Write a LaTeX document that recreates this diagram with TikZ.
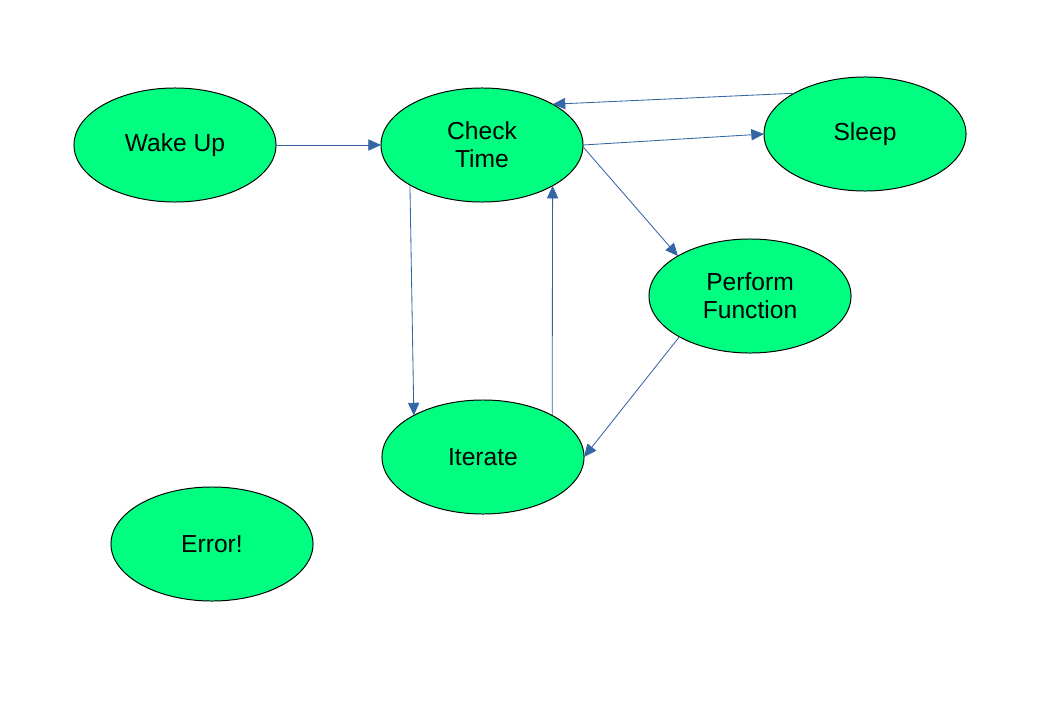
\documentclass[tikz,border=0pt]{standalone}
\usepackage{fontspec}
\setmainfont{Liberation Sans}
\usetikzlibrary{shapes.geometric,arrows.meta}
\definecolor{StateGreen}{HTML}{00FF80}
\definecolor{FlowBlue}{HTML}{3465A4}

\begin{document}
\begin{tikzpicture}[x=0.025cm,y=0.025cm,
  state/.style={ellipse,draw=black,line width=0.7pt,fill=StateGreen,
    minimum width=5.05cm,minimum height=2.85cm,inner sep=0pt,outer sep=0pt,
    align=center,font=\fontsize{17.5}{20}\selectfont},
  flow/.style={draw=FlowBlue,line width=0.6pt,
    -{Triangle[length=9pt,width=8pt]}}]
\path[use as bounding box] (0,0) rectangle (1050,700);
\node[state] (wake) at (175,555) {Wake Up};
\node[state] (check) at (482,555) {Check\\Time};
\node[state] (sleep) at (865,566) {Sleep};
\node[state] (perform) at (750,404) {Perform\\Function};
\node[state] (iter) at (483,243) {Iterate};
\node[state] (err) at (212,156) {Error!};
\draw[flow] (wake.east) -- (check.west);
\draw[flow] (sleep.150) -- (check.30);
\draw[flow] (check.east) -- (sleep.west);
\draw[flow] (check.359) -- (perform.151);
\draw[flow] (check.209) -- (iter.149);
\draw[flow] (iter.31) -- (check.330);
\draw[flow] (perform.210) -- (iter.east);
\end{tikzpicture}
\end{document}
